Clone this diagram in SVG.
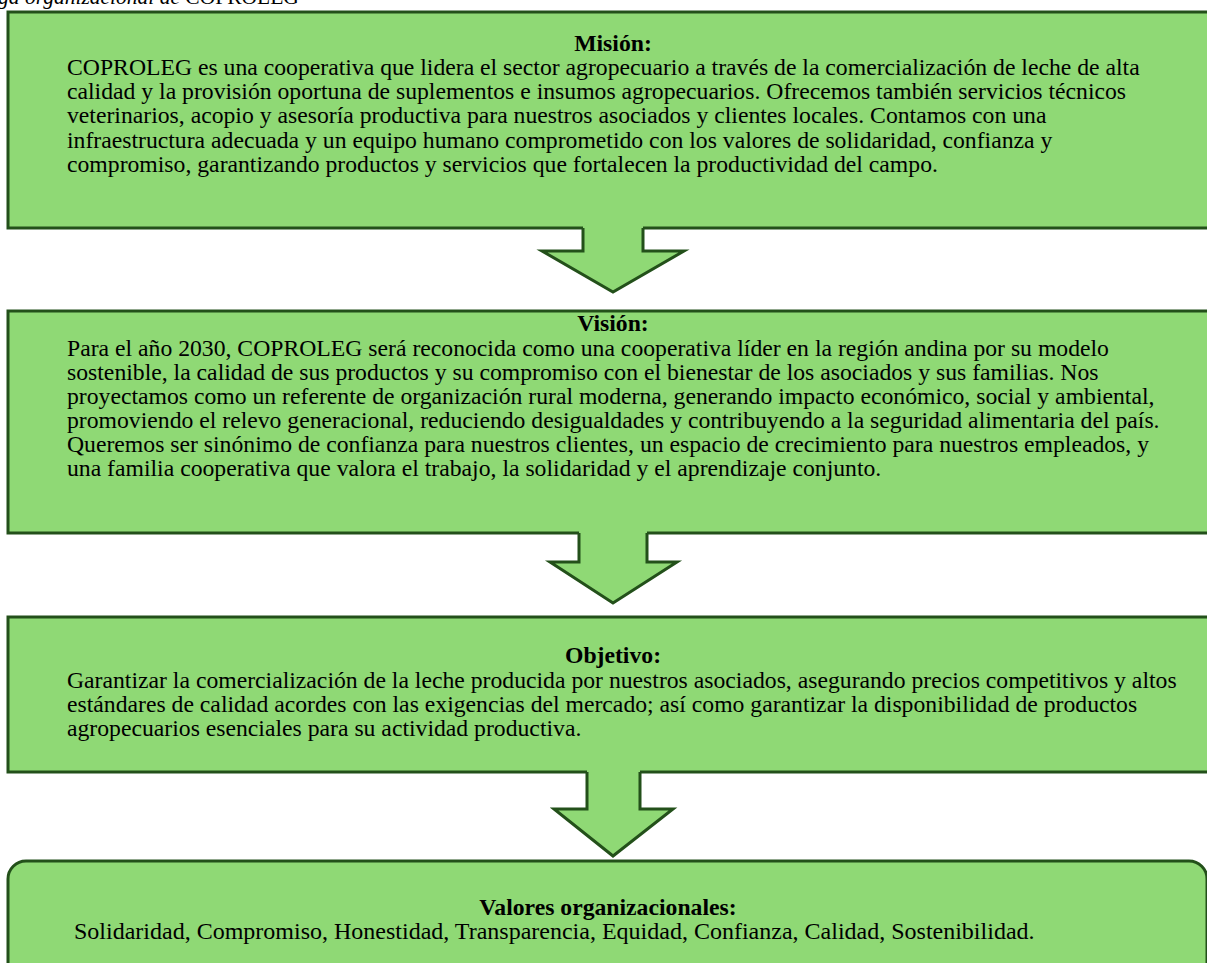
<svg xmlns="http://www.w3.org/2000/svg" width="1207" height="963" viewBox="0 0 1207 963">
<style>
.box{fill:#8FD975;stroke:#23501A;stroke-width:3}
.afill{fill:#8FD975;stroke:none}
.aline{fill:none;stroke:#23501A;stroke-width:3;stroke-linejoin:miter}
text{font-family:"Liberation Serif","Times New Roman",serif;font-size:23.7px;fill:#000}
.t{font-weight:bold;text-anchor:middle}
.cap{font-size:21.5px}
.v{font-size:24px}
</style>
<rect width="1207" height="963" fill="#fff"/>
<g id="caption"><text class="cap" x="-2" y="4"><tspan font-style="italic">ga organizacional de </tspan>COPROLEG</text></g>
<g id="mision">
<rect class="box" x="8" y="12" width="1212" height="216"/>
<text class="t" x="613" y="51">Misión:</text>
<text x="67" y="75">COPROLEG es una cooperativa que lidera el sector agropecuario a través de la comercialización de leche de alta</text>
<text x="67" y="99">calidad y la provisión oportuna de suplementos e insumos agropecuarios. Ofrecemos también servicios técnicos</text>
<text x="67" y="123">veterinarios, acopio y asesoría productiva para nuestros asociados y clientes locales. Contamos con una</text>
<text x="67" y="148">infraestructura adecuada y un equipo humano comprometido con los valores de solidaridad, confianza y</text>
<text x="67" y="172">compromiso, garantizando productos y servicios que fortalecen la productividad del campo.</text>
</g>
<g id="vision">
<rect class="box" x="8" y="311" width="1212" height="222"/>
<text class="t" x="613" y="331">Visión:</text>
<text x="67" y="356">Para el año 2030, COPROLEG será reconocida como una cooperativa líder en la región andina por su modelo</text>
<text x="67" y="380">sostenible, la calidad de sus productos y su compromiso con el bienestar de los asociados y sus familias. Nos</text>
<text x="67" y="404">proyectamos como un referente de organización rural moderna, generando impacto económico, social y ambiental,</text>
<text x="67" y="428">promoviendo el relevo generacional, reduciendo desigualdades y contribuyendo a la seguridad alimentaria del país.</text>
<text x="67" y="452">Queremos ser sinónimo de confianza para nuestros clientes, un espacio de crecimiento para nuestros empleados, y</text>
<text x="67" y="476">una familia cooperativa que valora el trabajo, la solidaridad y el aprendizaje conjunto.</text>
</g>
<g id="objetivo">
<rect class="box" x="8" y="617" width="1212" height="155"/>
<text class="t" x="613" y="663">Objetivo:</text>
<text x="67" y="688">Garantizar la comercialización de la leche producida por nuestros asociados, asegurando precios competitivos y altos</text>
<text x="67" y="712">estándares de calidad acordes con las exigencias del mercado; así como garantizar la disponibilidad de productos</text>
<text x="67" y="736">agropecuarios esenciales para su actividad productiva.</text>
</g>
<g id="valores">
<rect class="box" x="8" y="861" width="1199" height="130" rx="18" ry="18"/>
<text class="t" x="608" y="915">Valores organizacionales:</text>
<text class="v" x="74" y="939">Solidaridad, Compromiso, Honestidad, Transparencia, Equidad, Confianza, Calidad, Sostenibilidad.</text>
</g>
<g id="connectors">
<polygon class="afill" points="583,224 643,224 643,251 684,251 613,292 542,251 583,251"/>
<polyline class="aline" points="583,228 583,251 542,251 613,292 684,251 643,251 643,228"/>
<polygon class="afill" points="579,529 647,529 647,562 677,562 613,603 550,562 579,562"/>
<polyline class="aline" points="579,533 579,562 550,562 613,603 677,562 647,562 647,533"/>
<polygon class="afill" points="587,768 640,768 640,809 673,809 613,856 554,809 587,809"/>
<polyline class="aline" points="587,772 587,809 554,809 613,856 673,809 640,809 640,772"/>
</g>
</svg>
